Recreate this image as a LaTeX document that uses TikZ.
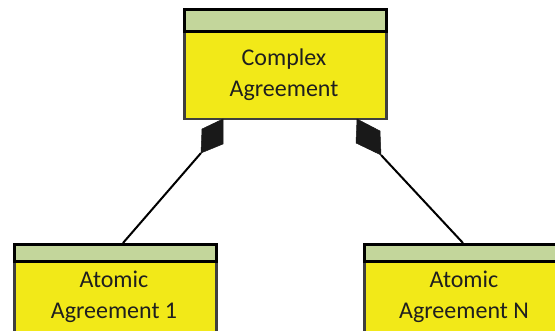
\documentclass[tikz,border=0pt]{standalone}
\usepackage{fontspec}
\setmainfont{Carlito}
\definecolor{boxyellow}{HTML}{F2E918}
\definecolor{boxgreen}{HTML}{C3D69B}
\definecolor{edgegray}{HTML}{3F3F3F}
\definecolor{txt}{HTML}{1F1F1F}
\begin{document}
\begin{tikzpicture}[x=1pt,y=-1pt,
  hdr/.style={draw=black,line width=3pt,fill=boxgreen,anchor=north west,inner sep=0pt,minimum width=202pt,minimum height=22pt},
  bodybox/.style={draw=edgegray,line width=2.5pt,fill=boxyellow,anchor=north west,inner sep=0pt,minimum width=202pt},
  lbl/.style={align=center,text=txt,font=\fontsize{24}{31}\selectfont,inner sep=0pt},
  conn/.style={draw=black,line width=2pt},
  diam/.style={fill=black!90,draw=black!90,line width=0.5pt,line join=round}]
\useasboundingbox (0,0) rectangle (555,331);
% top box
\node[bodybox,minimum height=88pt] (cB) at (183,30) {};
\node[hdr] (cH) at (183,8) {};
\node[lbl] (cT) at (284,75) {Complex\\Agreement};
% left atomic box
\node[bodybox,minimum height=88pt] (aB) at (13,259) {};
\node[hdr,minimum height=17pt] (aH) at (13,243) {};
\node[lbl] (aT) at (114,297) {Atomic\\Agreement 1};
% right atomic box
\node[bodybox,minimum height=88pt] (nB) at (363,259) {};
\node[hdr,minimum height=17pt] (nH) at (363,243) {};
\node[lbl] (nT) at (464,297) {Atomic\\Agreement N};
% composition diamonds
\coordinate (dL1) at (223,119);
\coordinate (dL2) at (202,129);
\coordinate (dL3) at (201,153);
\coordinate (dL4) at (223,144);
\coordinate (dR1) at (357,119);
\coordinate (dR2) at (380,131);
\coordinate (dR3) at (381,155);
\coordinate (dR4) at (356,143);
\coordinate (eL) at (123,243);
\coordinate (eR) at (463,243);
\draw[conn] (dL3) -- (eL);
\draw[conn] (dR3) -- (eR);
\filldraw[diam] (dL1) -- (dL2) -- (dL3) -- (dL4) -- cycle;
\filldraw[diam] (dR1) -- (dR2) -- (dR3) -- (dR4) -- cycle;
\end{tikzpicture}
\end{document}
